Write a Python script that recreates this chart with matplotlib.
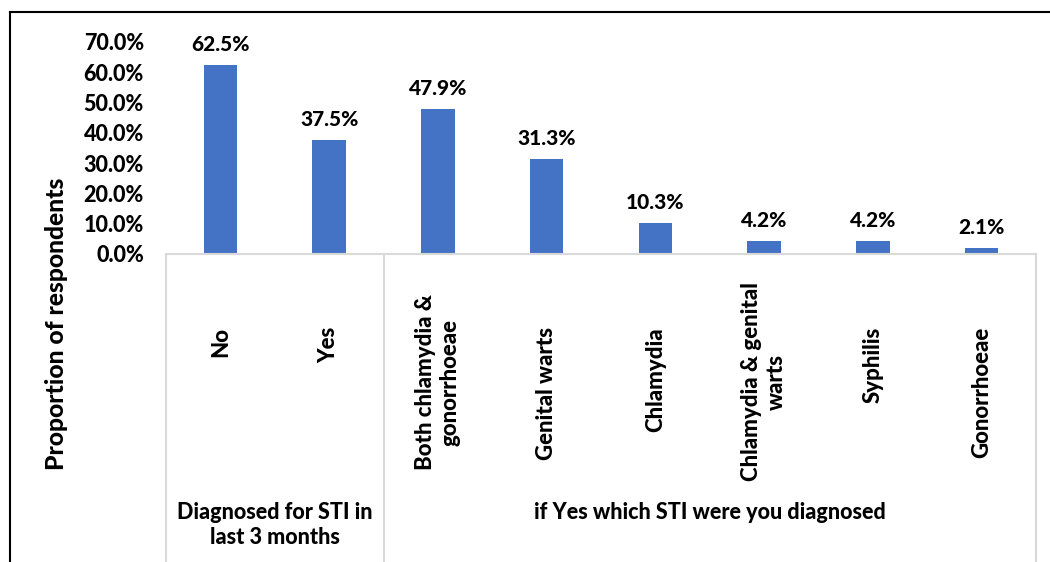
import matplotlib.pyplot as plt
import matplotlib.transforms as mtransforms
from matplotlib.lines import Line2D

categories = ["No", "Yes", "Both chlamydia &\ngonorrhoeae", "Genital warts", "Chlamydia",
              "Chlamydia & genital\nwarts", "Syphilis", "Gonorrhoeae"]
values = [62.5, 37.5, 47.9, 31.3, 10.3, 4.2, 4.2, 2.1]
groups = ["Diagnosed for STI in\nlast 3 months", "if Yes which STI were you diagnosed"]
group_sizes = [2, 6]
y_ticks = [0, 10, 20, 30, 40, 50, 60, 70]

BAR_COLOR = "#4472C4"
GRID_COLOR = "#D9D9D9"
FONT = "Lato"
WEIGHT = "black"
W, H = 1050, 562


def fx(px):
    return px / W


def fy(py):
    return 1 - py / H


plt.rcParams["font.family"] = [FONT, "DejaVu Sans"]
plt.rcParams["font.weight"] = WEIGHT

fig = plt.figure(figsize=(10.5, 5.62), dpi=100)
ax = fig.add_axes([fx(166), fy(254), fx(1036) - fx(166), fy(42) - fy(254)])

x = list(range(len(categories)))
bars = ax.bar(x, values, width=0.31, color=BAR_COLOR, zorder=2)
for rect, v in zip(bars, values):
    ax.annotate(f"{v:.1f}%", (rect.get_x() + rect.get_width() / 2, v),
                xytext=(0, 8), textcoords="offset points",
                ha="center", va="bottom", fontsize=15, fontweight=WEIGHT)

ax.set_xlim(-0.5, len(categories) - 0.5)
ax.set_ylim(0, 70)
ax.set_yticks(y_ticks)
ax.set_yticklabels([f"{t:.1f}%" for t in y_ticks], fontsize=15.5, fontweight=WEIGHT)
ax.tick_params(axis="y", length=0, pad=16)
ax.set_xticks([])
for side in ["left", "right", "top"]:
    ax.spines[side].set_visible(False)
ax.spines["bottom"].set_color(GRID_COLOR)
ax.spines["bottom"].set_linewidth(1.5)

# category area below the axis
trans = mtransforms.blended_transform_factory(ax.transData, fig.transFigure)
bounds = [-0.5]
for n in group_sizes:
    bounds.append(bounds[-1] + n)
for b in bounds:
    ax.add_line(Line2D([b, b], [0, fy(254)], transform=trans, color=GRID_COLOR,
                       lw=1.5, clip_on=False))

for xi, label in zip(x, categories):
    if "\n" in label:
        ax.text(xi, fy(382), label, transform=trans, rotation=90, ha="center",
                va="center", fontsize=16, fontweight=WEIGHT, linespacing=1.2)
    else:
        ax.text(xi, fy(327), label, transform=trans, rotation=90, ha="center",
                va="top", fontsize=16, fontweight=WEIGHT)

for i, g in enumerate(groups):
    mid = (bounds[i] + bounds[i + 1]) / 2
    ax.text(mid, fy(502), g, transform=trans, ha="center", va="top",
            fontsize=15.5, fontweight=WEIGHT, linespacing=1.25)

fig.text(fx(57), fy(324), "Proportion of respondents", rotation=90, ha="center",
         va="center", fontsize=17.8, fontweight=WEIGHT)

# outer frame of the chart (top and left edges visible)
fig.add_artist(Line2D([fx(10), 1], [fy(12), fy(12)], transform=fig.transFigure,
                      color="black", lw=1.5))
fig.add_artist(Line2D([fx(10), fx(10)], [0, fy(12)], transform=fig.transFigure,
                      color="black", lw=1.5))

fig.savefig("out.png", dpi=100)
